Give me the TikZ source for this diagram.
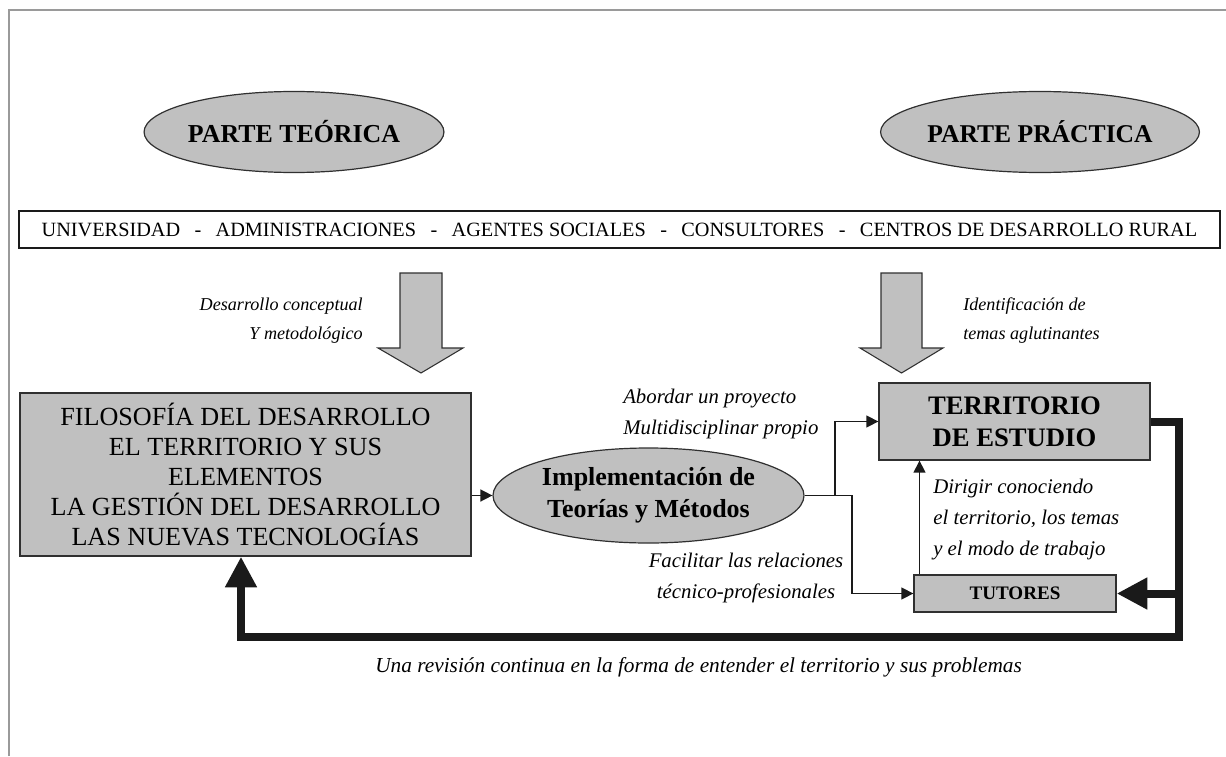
\documentclass[tikz,border=0pt]{standalone}
\usepackage{fontspec}
\setmainfont{Liberation Serif}
\usetikzlibrary{arrows.meta,shapes.geometric}
\definecolor{boxgray}{HTML}{C0C0C0}
\definecolor{framegray}{HTML}{9A9A9A}
\definecolor{ink}{HTML}{1A1A1A}
\definecolor{edge}{HTML}{303030}
\tikzset{
  oval/.style={ellipse, draw=edge, line width=0.9pt, fill=boxgray, inner sep=0pt, align=center},
  graybox/.style={rectangle, draw=edge, line width=1pt, fill=boxgray, inner sep=0pt, align=center},
  whitebox/.style={rectangle, draw=ink, line width=1.1pt, fill=white, inner sep=0pt},
  toplabel/.style={inner sep=0pt, font=\fontsize{13.6pt}{21.75pt}\selectfont\itshape},
  midlabel/.style={inner sep=0pt, font=\fontsize{15.6pt}{23.25pt}\selectfont\itshape},
  thinarrow/.style={draw=ink, line width=1.1pt, -{Triangle[length=9pt,width=9pt]}},
  thickarrow/.style={draw=ink, line width=6pt, line join=miter, -{Triangle[length=23pt,width=22.5pt]}},
  blockarrow/.style={fill=boxgray, draw=edge, line width=0.8pt, line join=miter},
}
\newcommand{\sepdash}{\hspace{10.8pt}-\hspace{10.8pt}}
\begin{document}
\begin{tikzpicture}[x=0.75pt,y=-0.75pt]
\useasboundingbox (0,0) rectangle (1226,756);
\fill[white] (0,0) rectangle (1226,756);
\draw[framegray, line width=1.5pt] (9,756) -- (9,10) -- (1226,10);

% top ellipses
\node[oval, minimum width=293*0.75pt, minimum height=81*0.75pt, font=\fontsize{19.4pt}{23pt}\selectfont\bfseries] (teo) at (294,132) {PARTE TEÓRICA};
\node[oval, minimum width=302*0.75pt, minimum height=81*0.75pt, font=\fontsize{19.2pt}{23pt}\selectfont\bfseries] (pra) at (1040,132) {PARTE PRÁCTICA};

% actors box
\node[whitebox, minimum width=1201*0.75pt, minimum height=37*0.75pt, font=\fontsize{15.2pt}{18pt}\selectfont] (actors) at (619.5,229.5)
  {UNIVERSIDAD\sepdash ADMINISTRACIONES\sepdash AGENTES SOCIALES\sepdash CONSULTORES\sepdash CENTROS DE DESARROLLO RURAL};

% block arrows
\coordinate (la) at (421,273);
\coordinate (ra) at (901.5,273);
\filldraw[blockarrow] (la) ++(-21,0) -- ++(42,0) -- ++(0,75) -- ++(21,0) -- ++(-42,25) -- ++(-43,-25) -- ++(22,0) -- cycle;
\filldraw[blockarrow] (ra) ++(-20.5,0) -- ++(41,0) -- ++(0,75) -- ++(21,0) -- ++(-41.5,25) -- ++(-41.5,-25) -- ++(21,0) -- cycle;

\node[toplabel, anchor=east, align=right] (lbl1) at (363,320.5) {Desarrollo conceptual\\Y metodológico};
\node[toplabel, anchor=west, align=left] (lbl2) at (963,321) {Identificación de\\temas aglutinantes};

% main boxes
\node[graybox, minimum width=451*0.75pt, minimum height=163*0.75pt, font=\fontsize{19.6pt}{22.5pt}\selectfont] (big) at (245.5,474.5)
  {FILOSOFÍA DEL DESARROLLO\\EL TERRITORIO Y SUS\\ELEMENTOS\\LA GESTIÓN DEL DESARROLLO\\LAS NUEVAS TECNOLOGÍAS};
\node[oval, minimum width=311*0.75pt, minimum height=95*0.75pt, font=\fontsize{19.5pt}{24pt}\selectfont\bfseries] (impl) at (648.5,495.5)
  {Implementación de\\Teorías y Métodos};
\node[graybox, minimum width=271*0.75pt, minimum height=77*0.75pt, font=\fontsize{20pt}{24pt}\selectfont\bfseries] (terr) at (1014.5,421.5)
  {TERRITORIO\\DE ESTUDIO};
\node[graybox, minimum width=202*0.75pt, minimum height=37*0.75pt, font=\fontsize{14.3pt}{17pt}\selectfont\bfseries] (tut) at (1015,593.5)
  {TUTORES};

% labels
\node[midlabel, anchor=west, align=left] (lbl3) at (623,414) {Abordar un proyecto\\Multidisciplinar propio};
\node[midlabel, align=center] (lbl4) at (746,578) {Facilitar las relaciones\\técnico-profesionales};
\node[midlabel, anchor=west, align=left] (lbl5) at (933,520) {Dirigir conociendo\\el territorio, los temas\\y el modo de trabajo};
\node[inner sep=0pt, anchor=west, font=\fontsize{16pt}{19pt}\selectfont\itshape] (lbl6) at (375,667)
  {Una revisión continua en la forma de entender el territorio y sus problemas};

% thin connectors
\coordinate (j1) at (835,495.5);
\coordinate (j2) at (852,495.5);
\coordinate (vx) at (919.5,500);
\draw[thinarrow] (big.east |- impl.west) -- (impl.west);
\draw[thinarrow] (impl.east) -- (j1) |- (terr.west);
\draw[thinarrow] (j1) -- (j2) |- (tut.west);
\draw[thinarrow] (vx |- tut.north) -- (vx |- terr.south);

% thick feedback loop
\coordinate (fbR) at (1179,637);
\coordinate (fbL) at (241,637);
\draw[thickarrow] (terr.east) -| (fbR) -- (fbL) -- (fbL |- big.south);
\draw[thickarrow] (fbR |- tut.east) -- (tut.east);
\end{tikzpicture}
\end{document}
